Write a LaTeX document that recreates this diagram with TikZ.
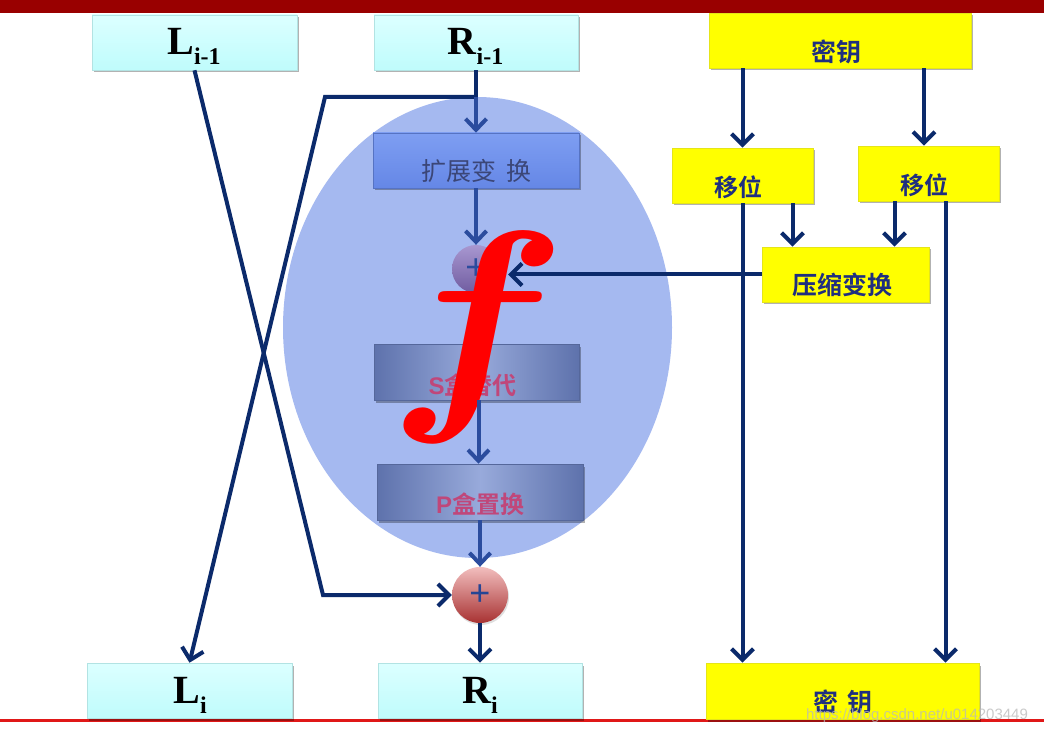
\documentclass[tikz,border=0pt]{standalone}
\usepackage{graphicx}
\usepackage{fontspec}
\setmainfont{Liberation Serif}
\setsansfont{Liberation Sans}
\newfontfamily\cjk{Noto Sans CJK SC}[BoldFont={Noto Sans CJK SC Bold}]
\usetikzlibrary{arrows.meta,shapes.geometric,shadows}
\definecolor{navyc}{HTML}{0B2A6B}
\definecolor{innerblue}{HTML}{2B4C9E}
\definecolor{ellblue}{HTML}{A5B9F0}
\definecolor{topbar}{HTML}{990000}
\definecolor{cyanT}{HTML}{DCFFFF}
\definecolor{cyanB}{HTML}{BFFCFC}
\definecolor{extT}{HTML}{7E9EF2}
\definecolor{extB}{HTML}{6587E6}
\definecolor{sbEdge}{HTML}{5E72AC}
\definecolor{sbMid}{HTML}{98AADB}
\definecolor{sbText}{HTML}{C0477A}
\definecolor{extText}{HTML}{3B4677}
\definecolor{keyText}{HTML}{1F2F7F}
\definecolor{redline}{HTML}{E01818}
\definecolor{pOneT}{HTML}{A897D0}
\definecolor{pOneB}{HTML}{705CA0}
\definecolor{pTwoT}{HTML}{F2BEBE}
\definecolor{pTwoB}{HTML}{A83232}
\definecolor{pureyellow}{rgb}{1,1,0}
\begin{document}
\begin{tikzpicture}[x=1pt,y=-1pt,
  boxshadow/.style={drop shadow={shadow xshift=1.5pt,shadow yshift=-2.5pt,opacity=0.3,fill=black}},
  cyanbox/.style={rectangle,inner sep=0,top color=cyanT,bottom color=cyanB,draw=cyanB!80!gray,line width=0.6pt,boxshadow},
  ybox/.style={rectangle,inner sep=0,fill=pureyellow,draw=pureyellow!80!gray,line width=0.8pt,boxshadow},
  extbox/.style={rectangle,inner sep=0,top color=extT,bottom color=extB,draw=extB!85!black,line width=0.6pt,boxshadow},
  sbox/.style={rectangle,inner sep=0,left color=sbEdge,right color=sbEdge,middle color=sbMid,draw=sbEdge!90!black,line width=0.5pt,boxshadow},
  lrlab/.style={inner sep=0,anchor=base,font=\bfseries\fontsize{40}{40}\selectfont},
  ylab/.style={inner sep=0,text=keyText,font=\cjk\bfseries\fontsize{24}{24}\selectfont},
  slab/.style={inner sep=0,text=sbText,font=\cjk\bfseries\fontsize{24}{24}\selectfont},
  navyline/.style={draw=navyc,line width=4pt,line join=miter},
  navyarr/.style={navyline,-{Straight Barb[length=11pt,width=22pt]}},
  bluearr/.style={draw=innerblue,line width=4pt,-{Straight Barb[length=11pt,width=21pt]}},
]
\useasboundingbox (0,0) rectangle (1044,735);
\fill[white] (0,0) rectangle (1044,735);
\fill[topbar] (0,0) rectangle (1044,13);
\draw[redline,line width=3pt] (0,720) -- (1044,720);

% f ellipse
\node[ellipse,fill=ellblue,minimum width=389,minimum height=461,inner sep=0] (fe) at (477.5,327.5) {};

% boxes
\node[cyanbox,minimum width=205,minimum height=55] (Li1) at (194.5,42.5) {};
\node[cyanbox,minimum width=204,minimum height=55] (Ri1) at (476,42.5) {};
\node[cyanbox,minimum width=205,minimum height=55] (Li) at (189.5,690.5) {};
\node[cyanbox,minimum width=204,minimum height=55] (Ri) at (480,690.5) {};
\node[ybox,minimum width=262,minimum height=55] (K1) at (840,40.5) {};
\node[ybox,minimum width=141,minimum height=55] (SH1) at (742.5,175.5) {};
\node[ybox,minimum width=141,minimum height=55] (SH2) at (928.5,173.5) {};
\node[ybox,minimum width=167,minimum height=55] (CMP) at (845.5,274.5) {};
\node[ybox,minimum width=273,minimum height=56] (K2) at (842.5,691) {};
\node[extbox,minimum width=206,minimum height=55] (Ext) at (476,160.5) {};
\node[sbox,minimum width=205,minimum height=56] (Sb) at (476.5,372) {};
\node[sbox,minimum width=206,minimum height=56] (Pb) at (480,492) {};

% circles
\node[circle,minimum size=48,inner sep=0,top color=pOneT,bottom color=pOneB] (P1) at (476,269) {};
\node[circle,minimum size=56,inner sep=0,top color=pTwoT,bottom color=pTwoB,drop shadow={shadow xshift=1pt,shadow yshift=-2pt,opacity=0.25}] (P2) at (480,595) {};
\node[inner sep=0,text=innerblue,font=\sffamily\fontsize{36}{36}\selectfont] (P1t) at (P1.center) {+};
\node[inner sep=0,text=innerblue!80!navyc,font=\sffamily\fontsize{36}{36}\selectfont] (P2t) at (P2.center) {+};

% labels
\node[lrlab] (Li1t) at (194,55) {L\raisebox{-10pt}{\fontsize{24}{24}\selectfont i-1}};
\node[lrlab] (Ri1t) at (475.5,55) {R\raisebox{-10pt}{\fontsize{24}{24}\selectfont i-1}};
\node[lrlab] (Lit) at (190,703) {L\raisebox{-10pt}{\fontsize{24}{24}\selectfont i}};
\node[lrlab] (Rit) at (480,703) {R\raisebox{-10pt}{\fontsize{24}{24}\selectfont i}};
\node[ylab,font=\cjk\bfseries\fontsize{25}{25}\selectfont] (K1t) at (836,51.5) {密钥};
\node[ylab] (SH1t) at (738,187.5) {移位};
\node[ylab] (SH2t) at (924,185) {移位};
\node[ylab,font=\cjk\bfseries\fontsize{25}{25}\selectfont] (CMPt) at (842,285) {压缩变换};
\node[ylab,font=\cjk\bfseries\fontsize{25}{25}\selectfont] (K2t) at (843,701.5) {密\hspace{9pt}钥};
\node[inner sep=0,text=extText,font=\cjk\fontsize{25}{25}\selectfont] (Extt) at (476,170.5) {扩展变\hspace{10pt}换};
\node[slab] (Sbt) at (472.5,385) {\sffamily S\cjk 盒替代};
\node[slab] (Pbt) at (480,504) {\sffamily P\cjk 盒置换};

% big f
\node[inner sep=0,anchor=base,text=red] (ff) at (478,396) {\scalebox{12.8}[11.4]{\fontsize{20}{20}\selectfont\boldmath$f$}};

% coordinates
\coordinate (c1) at (323,595);
\coordinate (c2) at (476,97);
\coordinate (c3) at (325,97);

% connectors
\draw[navyarr] (Li1.south) -- (c1) -- (P2.west);
\draw[navyline] (Ri1.south) -- (c2);
\draw[navyarr] (c2) -- (c3) -- (Li.north);
\draw[bluearr] (c2) -- (Ext.north);
\draw[bluearr] (Ext.south) -- (P1.north);
\draw[bluearr] ([xshift=2pt]Sb.south) -- ([xshift=-1.5pt]Pb.north);
\draw[bluearr] (Pb.south) -- (P2.north);
\draw[navyarr] (P2.south) -- (Ri.north);

\draw[navyarr] (K1.south -| SH1.north) -- (SH1.north);
\draw[navyarr] ([xshift=-4.5pt]K1.south -| SH2.north) -- ([xshift=-4.5pt]SH2.north);
\draw[navyarr] ([xshift=50pt]SH1.south) -- ([xshift=50pt]SH1.south |- CMP.north);
\draw[navyarr] ([xshift=-34pt]SH2.south) -- ([xshift=-34pt]SH2.south |- CMP.north);
\draw[navyarr] (CMP.west) -- ([xshift=8pt]CMP.west -| P1.east);
\draw[navyarr] (SH1.south) -- (SH1.south |- K2.north);
\draw[navyarr] ([xshift=17pt]SH2.south) -- ([xshift=17pt]SH2.south |- K2.north);

% watermark
\node[inner sep=0,text=gray!55,opacity=0.75,font=\sffamily\fontsize{15}{15}\selectfont] (wm) at (917,716) {https://blog.csdn.net/u014203449};
\end{tikzpicture}
\end{document}
